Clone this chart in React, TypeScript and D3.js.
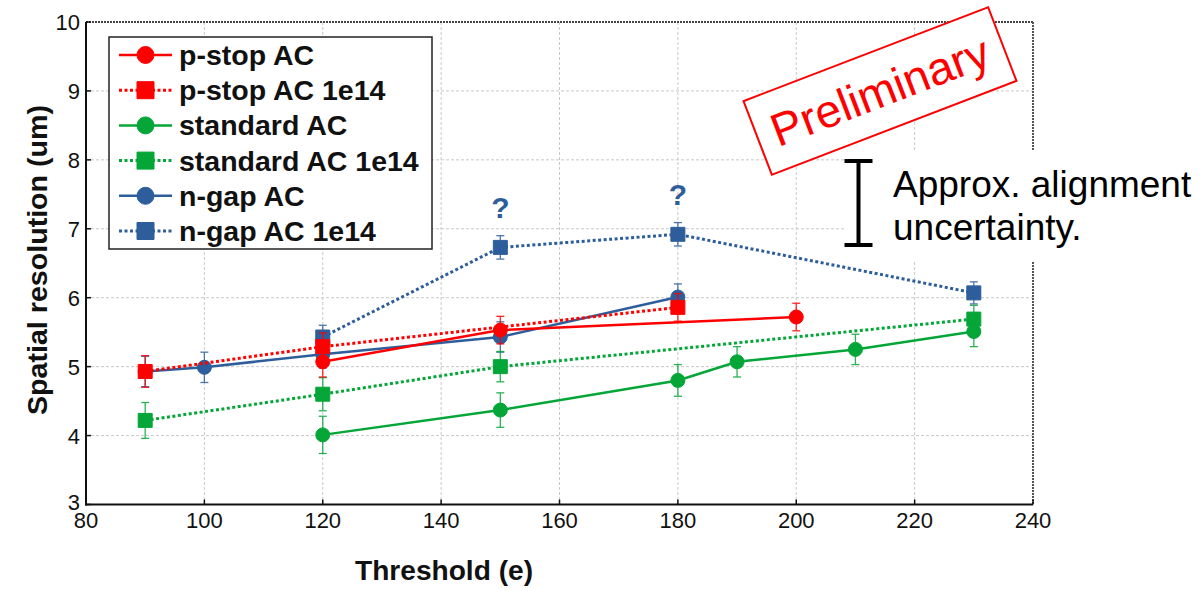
import React from "react";
import * as d3 from "d3";

// Threshold values (e) and spatial resolution (um) per sensor variant
const pstopX = [120, 150, 200];
const pstopY = [5.07, 5.53, 5.72];
const pstopErr = [0.22, 0.2, 0.2];

const pstop14X = [90, 120, 180];
const pstop14Y = [4.93, 5.29, 5.86];
const pstop14Err = [0.23, 0.2, 0.2];

const standardX = [120, 150, 180, 190, 210, 230];
const standardY = [4.01, 4.37, 4.8, 5.07, 5.25, 5.51];
const standardErr = [0.27, 0.25, 0.23, 0.22, 0.22, 0.22];

const standard14X = [90, 120, 150, 230];
const standard14Y = [4.22, 4.6, 5.0, 5.69];
const standard14Err = [0.26, 0.24, 0.22, 0.2];

const ngapX = [90, 100, 120, 150, 180];
const ngapY = [4.93, 4.99, 5.18, 5.43, 6.01];
const ngapErr = [0.22, 0.22, 0.2, 0.22, 0.19];

const ngap14X = [120, 150, 180, 230];
const ngap14Y = [5.43, 6.73, 6.92, 6.07];
const ngap14Err = [0.17, 0.17, 0.17, 0.16];

const seriesNames = [
  "p-stop AC",
  "p-stop AC 1e14",
  "standard AC",
  "standard AC 1e14",
  "n-gap AC",
  "n-gap AC 1e14",
];

const xTicks = [80, 100, 120, 140, 160, 180, 200, 220, 240];
const yTicks = [3, 4, 5, 6, 7, 8, 9, 10];

// thresholds flagged as questionable for n-gap AC 1e14
const questionX = [150, 180];

const RED = "#ff0000";
const GREEN = "#05a638";
const BLUE = "#2d5e9b";

type Series = {
  name: string;
  xs: number[];
  ys: number[];
  err: number[];
  color: string;
  dotted: boolean;
  square: boolean;
};

const series: Series[] = [
  { name: seriesNames[0], xs: pstopX, ys: pstopY, err: pstopErr, color: RED, dotted: false, square: false },
  { name: seriesNames[1], xs: pstop14X, ys: pstop14Y, err: pstop14Err, color: RED, dotted: true, square: true },
  { name: seriesNames[2], xs: standardX, ys: standardY, err: standardErr, color: GREEN, dotted: false, square: false },
  { name: seriesNames[3], xs: standard14X, ys: standard14Y, err: standard14Err, color: GREEN, dotted: true, square: true },
  { name: seriesNames[4], xs: ngapX, ys: ngapY, err: ngapErr, color: BLUE, dotted: false, square: false },
  { name: seriesNames[5], xs: ngap14X, ys: ngap14Y, err: ngap14Err, color: BLUE, dotted: true, square: true },
];

const W = 1204;
const H = 591;
const L = 86;
const R = 1033;
const T = 22;
const B = 504.5;

const x = d3.scaleLinear().domain([80, 240]).range([L, R]);
const y = d3.scaleLinear().domain([3, 10]).range([B, T]);

const FONT = "'Liberation Sans', Arial, Helvetica, sans-serif";

function Marker({ cx, cy, square, color, size }: { cx: number; cy: number; square: boolean; color: string; size: number }) {
  const path = d3
    .symbol()
    .type(square ? d3.symbolSquare : d3.symbolCircle)
    .size(square ? size * size : (Math.PI * size * size) / 4)();
  return <path d={path || ""} transform={`translate(${cx},${cy})`} fill={color} stroke={color} strokeWidth={1} />;
}

export default function App() {
  const line = d3
    .line<[number, number]>()
    .x((d) => x(d[0]))
    .y((d) => y(d[1]));

  const drawOrder = [...series].reverse();

  return (
    <div style={{ position: "absolute", left: 0, top: 0 }}>
      <svg width={W} height={H} style={{ display: "block", background: "#fff" }} fontFamily={FONT}>
        <rect x={0} y={0} width={W} height={H} fill="#fff" />

        {/* grid */}
        <g stroke="#c8c8c8" strokeWidth={1} strokeDasharray="3,2">
          {xTicks.slice(1, -1).map((t) => (
            <line key={"gx" + t} x1={x(t)} x2={x(t)} y1={T} y2={B} />
          ))}
          {yTicks.slice(1, -1).map((t) => (
            <line key={"gy" + t} x1={L} x2={R} y1={y(t)} y2={y(t)} />
          ))}
        </g>

        {/* frame */}
        <line x1={L} x2={R} y1={T} y2={T} stroke="#444" strokeWidth={2} strokeDasharray="2,1" />
        <line x1={R} x2={R} y1={T} y2={B} stroke="#555" strokeWidth={2} strokeDasharray="2,1" />
        <line x1={L} x2={L} y1={T} y2={B + 1} stroke="#111" strokeWidth={2} />
        <line x1={L - 1} x2={R} y1={B} y2={B} stroke="#111" strokeWidth={2} />

        {/* ticks */}
        <g stroke="#111" strokeWidth={1.5}>
          {xTicks.map((t) => (
            <line key={"tx" + t} x1={x(t)} x2={x(t)} y1={B} y2={B - 5} />
          ))}
          {yTicks.map((t) => (
            <line key={"ty" + t} x1={L} x2={L + 5} y1={y(t)} y2={y(t)} />
          ))}
        </g>

        {/* tick labels */}
        <g fontSize={22} fill="#111">
          {xTicks.map((t) => (
            <text key={"lx" + t} x={x(t)} y={528} textAnchor="middle">
              {t}
            </text>
          ))}
          {yTicks.map((t) => (
            <text key={"ly" + t} x={80} y={y(t) + (t === 3 ? 5 : 8)} textAnchor="end">
              {t}
            </text>
          ))}
        </g>

        {/* axis titles */}
        <text x={444} y={580} textAnchor="middle" fontSize={27} fontWeight="bold" fill="#111" textLength={178} lengthAdjust="spacingAndGlyphs">
          Threshold (e)
        </text>
        <text
          transform={`translate(47,260) rotate(-90)`}
          textAnchor="middle"
          fontSize={28}
          fontWeight="bold"
          fill="#111"
          textLength={310}
          lengthAdjust="spacingAndGlyphs"
        >
          Spatial resolution (um)
        </text>

        {/* series */}
        {drawOrder.map((s) => {
          const pts = s.xs.map((v, i) => [v, s.ys[i]] as [number, number]);
          return (
            <g key={s.name}>
              <path
                d={line(pts) || ""}
                fill="none"
                stroke={s.color}
                strokeWidth={s.dotted ? 3 : 2.5}
                strokeDasharray={s.dotted ? "3,2.5" : undefined}
              />
              <g stroke={s.color} strokeWidth={1.3} opacity={0.85}>
                {pts.map((p, i) => (
                  <g key={i}>
                    <line x1={x(p[0])} x2={x(p[0])} y1={y(p[1] + s.err[i])} y2={y(p[1] - s.err[i])} />
                    <line x1={x(p[0]) - 4} x2={x(p[0]) + 4} y1={y(p[1] + s.err[i])} y2={y(p[1] + s.err[i])} />
                    <line x1={x(p[0]) - 4} x2={x(p[0]) + 4} y1={y(p[1] - s.err[i])} y2={y(p[1] - s.err[i])} />
                  </g>
                ))}
              </g>
              {pts.map((p, i) => (
                <Marker key={i} cx={x(p[0])} cy={y(p[1])} square={s.square} color={s.color} size={14} />
              ))}
            </g>
          );
        })}

        {/* question marks over n-gap AC 1e14 points */}
        {questionX.map((qx) => {
          const i = ngap14X.indexOf(qx);
          return (
            <text key={"q" + qx} x={x(qx)} y={y(ngap14Y[i]) - 29} textAnchor="middle" fontSize={30} fontWeight="bold" fill={BLUE}>
              ?
            </text>
          );
        })}

        {/* legend */}
        <g>
          <rect x={109} y={37} width={323} height={212} fill="#fff" stroke="#222" strokeWidth={1.5} />
          {series.map((s, i) => {
            const cy = 55 + i * 35.2;
            return (
              <g key={"lg" + s.name}>
                <line
                  x1={119}
                  x2={172}
                  y1={cy}
                  y2={cy}
                  stroke={s.color}
                  strokeWidth={s.dotted ? 3 : 2.5}
                  strokeDasharray={s.dotted ? "3,2.5" : undefined}
                />
                <Marker cx={145.5} cy={cy} square={s.square} color={s.color} size={17} />
                <text x={179} y={cy + 10} fontSize={28.5} fontWeight="bold" fill="#111">
                  {s.name}
                </text>
              </g>
            );
          })}
        </g>

        {/* alignment uncertainty annotation */}
        <rect x={846} y={150} width={W - 846} height={112} fill="#fff" />
        <g stroke="#000" strokeWidth={4}>
          <line x1={858.5} x2={858.5} y1={159} y2={247} />
          <line x1={844.5} x2={872.5} y1={161} y2={161} />
          <line x1={844.5} x2={872.5} y1={245} y2={245} />
        </g>
        <text x={893} y={197} fontSize={37} fill="#000">
          Approx. alignment
        </text>
        <text x={893} y={240} fontSize={37} fill="#000">
          uncertainty.
        </text>

        {/* preliminary stamp */}
        <g transform="translate(880,91) rotate(-21)">
          <rect x={-131} y={-39.5} width={262} height={79} fill="#fff" stroke={RED} strokeWidth={2} />
          <text x={0} y={16} textAnchor="middle" fontSize={46} fill={RED}>
            Preliminary
          </text>
        </g>
      </svg>
    </div>
  );
}
